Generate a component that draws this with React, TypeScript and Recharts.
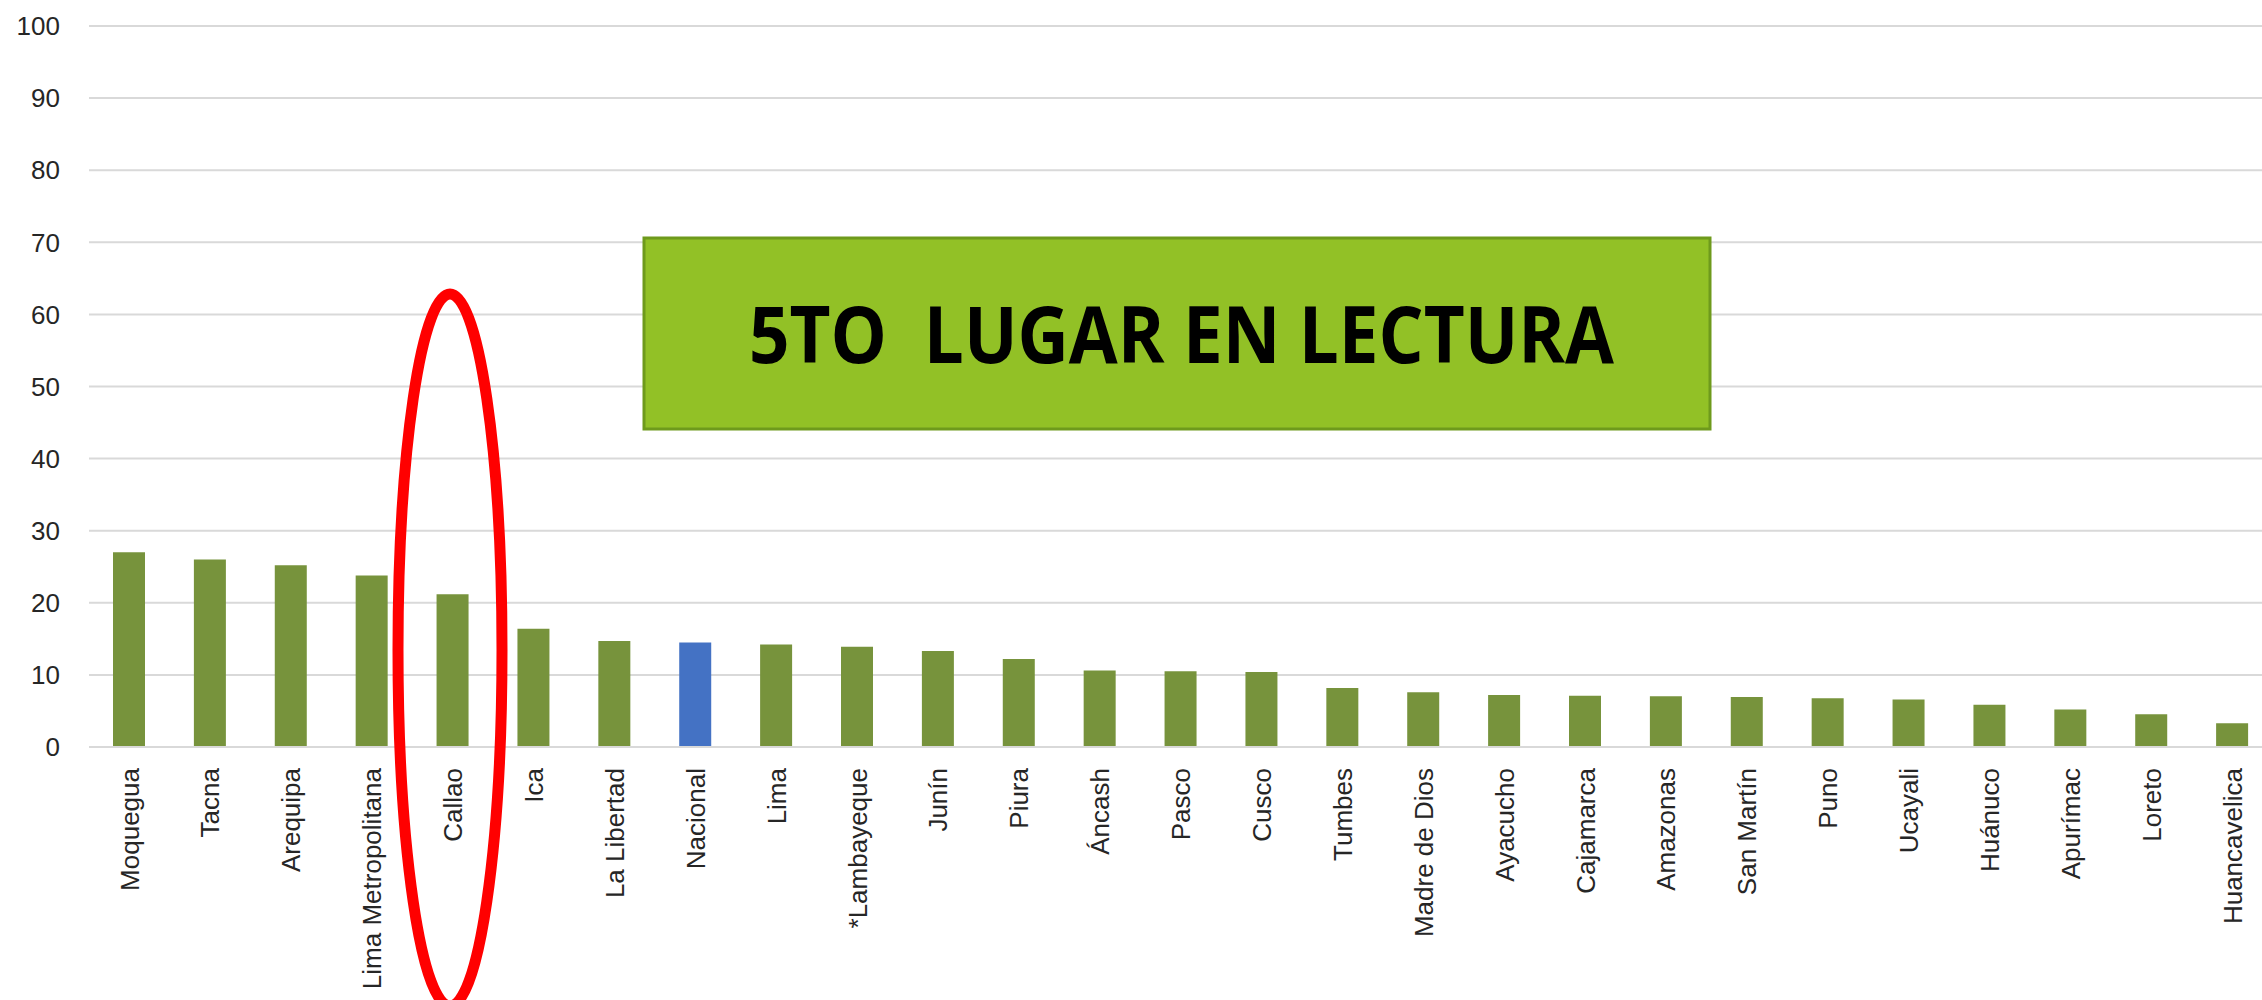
import React from "react";
import { Bar, BarChart, CartesianGrid, Cell, XAxis, YAxis } from "recharts";

const regions = [
  "Moquegua",
  "Tacna",
  "Arequipa",
  "Lima Metropolitana",
  "Callao",
  "Ica",
  "La Libertad",
  "Nacional",
  "Lima",
  "*Lambayeque",
  "Junín",
  "Piura",
  "Áncash",
  "Pasco",
  "Cusco",
  "Tumbes",
  "Madre de Dios",
  "Ayacucho",
  "Cajamarca",
  "Amazonas",
  "San Martín",
  "Puno",
  "Ucayali",
  "Huánuco",
  "Apurímac",
  "Loreto",
  "Huancavelica",
];

const scores = [
  27.0, 26.0, 25.2, 23.8, 21.2, 16.4, 14.7, 14.5, 14.2, 13.9, 13.3, 12.2, 10.6,
  10.5, 10.4, 8.2, 7.6, 7.2, 7.1, 7.05, 6.95, 6.75, 6.6, 5.85, 5.2, 4.55, 3.3,
];

const yTicks = [0, 10, 20, 30, 40, 50, 60, 70, 80, 90, 100];

const nationalLabel = "Nacional";
const bannerText = "5TO  LUGAR EN LECTURA";

const data = regions.map((region, i) => ({ region, score: scores[i] }));

const GREEN = "#77933c";
const BLUE = "#4472c4";
const GRID = "#d9d9d9";
const TEXT = "#262626";

const XTick = (props: any) => {
  const { x, y, payload } = props;
  return (
    <text
      x={x}
      y={y}
      transform={`rotate(-90, ${x}, ${y})`}
      textAnchor="end"
      dy="0.35em"
      fontSize={26}
      fontFamily="Liberation Sans, Arial, sans-serif"
      fill={TEXT}
    >
      {payload.value}
    </text>
  );
};

export default function App() {
  return (
    <div
      style={{
        position: "fixed",
        left: 0,
        top: 0,
        width: 2262,
        height: 1000,
        overflow: "hidden",
        background: "#fff",
      }}
    >
      <BarChart
        width={2290}
        height={1040}
        data={data}
        margin={{ top: 26, right: 17, bottom: 0, left: 0 }}
      >
        <CartesianGrid vertical={false} stroke={GRID} strokeWidth={2} />
        <XAxis
          dataKey="region"
          interval={0}
          height={293}
          axisLine={{ stroke: GRID, strokeWidth: 2 }}
          tickLine={false}
          tickSize={0}
          tickMargin={21}
          tick={<XTick />}
        />
        <YAxis
          width={89}
          domain={[0, 100]}
          ticks={yTicks}
          axisLine={false}
          tickLine={false}
          tickSize={0}
          tickMargin={29}
          tick={{
            fontSize: 26,
            fill: TEXT,
            fontFamily: "Liberation Sans, Arial, sans-serif",
          }}
        />
        <Bar dataKey="score" barSize={32} isAnimationActive={false}>
          {data.map((d) => (
            <Cell key={d.region} fill={d.region === nationalLabel ? BLUE : GREEN} />
          ))}
        </Bar>
      </BarChart>
      <svg
        width={2262}
        height={1000}
        style={{ position: "absolute", left: 0, top: 0, pointerEvents: "none" }}
      >
        <rect
          x={644}
          y={238}
          width={1066}
          height={191}
          fill="#92c126"
          stroke="#6e9a1c"
          strokeWidth={3}
        />
        <text
          x={749}
          y={363}
          textLength={865}
          lengthAdjust="spacingAndGlyphs"
          fontSize={79}
          fontWeight={700}
          fontFamily="Open Sans, Liberation Sans, sans-serif"
          fill="#000"
          style={{ whiteSpace: "pre" }}
        >
          {bannerText}
        </text>
        <ellipse
          cx={450}
          cy={650}
          rx={52}
          ry={356}
          fill="none"
          stroke="#ff0000"
          strokeWidth={11}
        />
      </svg>
    </div>
  );
}
